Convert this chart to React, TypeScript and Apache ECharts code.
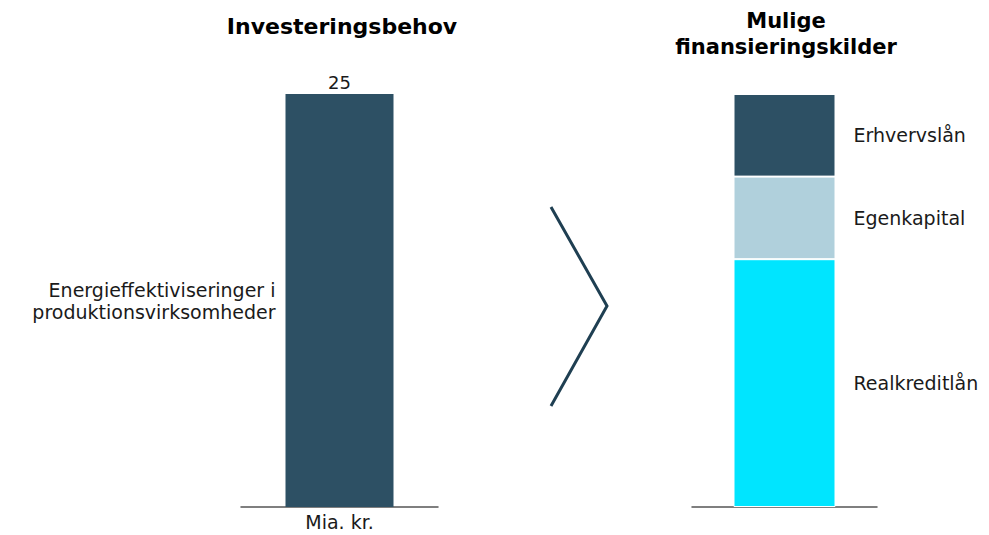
import React, { useEffect, useRef } from "react";
import * as echarts from "echarts";

const leftTitle = "Investeringsbehov";
const rightTitle = "Mulige\nfinansieringskilder";
const leftCategories = ["Mia. kr."];
const leftSeriesName = "Energieffektiviseringer i\nproduktionsvirksomheder";
const leftValues = [25];
const rightCategories = [""];
const sourceNames = ["Realkreditlån", "Egenkapital", "Erhvervslån"];
const sourceValues = [15, 5, 5];
const sourceColors = ["#00e5ff", "#b0d0dc", "#2d5064"];

const FONT = "'DejaVu Sans', sans-serif";
const TITLE_FONT = "'DejaVu Sans', Arial, sans-serif";
const TEXT = "#1a1a1a";

export default function App() {
  const ref = useRef<HTMLDivElement>(null);
  useEffect(() => {
    if (!ref.current) return;
    const chart = echarts.init(ref.current, undefined, { renderer: "svg" });
    const rightSeries = sourceNames.map((name, i) => ({
      type: "bar",
      name,
      stack: "src",
      xAxisIndex: 1,
      yAxisIndex: 1,
      barWidth: 102,
      data: [sourceValues[i]],
      itemStyle: { color: sourceColors[i], borderColor: "#ffffff", borderWidth: 1 },
      label: {
        show: true,
        position: "right",
        distance: 18,
        formatter: name,
        fontFamily: FONT,
        fontSize: 19,
        color: TEXT,
      },
    }));
    chart.setOption({
      animation: false,
      title: [
        {
          text: leftTitle,
          left: 337,
          top: 10,
          textAlign: "center",
          textStyle: { fontFamily: TITLE_FONT, fontWeight: "bold", fontSize: 22, color: "#000" },
        },
        {
          text: rightTitle,
          left: 781,
          top: 3,
          textAlign: "center",
          textStyle: { fontFamily: TITLE_FONT, fontWeight: "bold", fontSize: 21, lineHeight: 26, color: "#000" },
        },
      ],
      grid: [
        { left: 241, width: 197, top: 94, bottom: 28 },
        { left: 692, width: 185, top: 94, bottom: 28 },
      ],
      xAxis: [
        {
          type: "category",
          gridIndex: 0,
          data: leftCategories,
          axisLine: { lineStyle: { color: "#555", width: 1.5 } },
          axisTick: { show: false },
          axisLabel: { fontFamily: FONT, fontSize: 19, color: TEXT, margin: 5 },
        },
        {
          type: "category",
          gridIndex: 1,
          data: rightCategories,
          axisLine: { lineStyle: { color: "#555", width: 1.5 } },
          axisTick: { show: false },
          axisLabel: { show: false },
        },
      ],
      yAxis: [
        { type: "value", gridIndex: 0, min: 0, max: 25, show: false },
        { type: "value", gridIndex: 1, min: 0, max: 25, show: false },
      ],
      series: [
        {
          type: "bar",
          name: leftSeriesName,
          xAxisIndex: 0,
          yAxisIndex: 0,
          barWidth: 108,
          data: leftValues,
          itemStyle: { color: "#2d5064" },
          label: {
            show: true,
            position: "top",
            distance: 3,
            fontFamily: FONT,
            fontSize: 18,
            color: TEXT,
          },
        },
        {
          type: "scatter",
          name: "label",
          xAxisIndex: 0,
          yAxisIndex: 0,
          symbolSize: 0,
          silent: true,
          data: leftValues.map((v) => v / 2),
          itemStyle: { opacity: 1 },
          label: {
            show: true,
            position: "left",
            distance: 64,
            align: "right",
            formatter: leftSeriesName,
            fontFamily: FONT,
            fontSize: 19,
            lineHeight: 22,
            color: TEXT,
          },
        },
        ...rightSeries,
      ],
      graphic: [
        {
          type: "polyline",
          shape: { points: [[551, 207], [607, 306], [551, 406]] },
          style: { stroke: "#1f3f52", lineWidth: 3, fill: "none" },
        },
      ],
    });
    return () => chart.dispose();
  }, []);
  return <div ref={ref} style={{ width: 989, height: 535, position: "absolute", left: 0, top: 0, background: "#fff" }} />;
}
